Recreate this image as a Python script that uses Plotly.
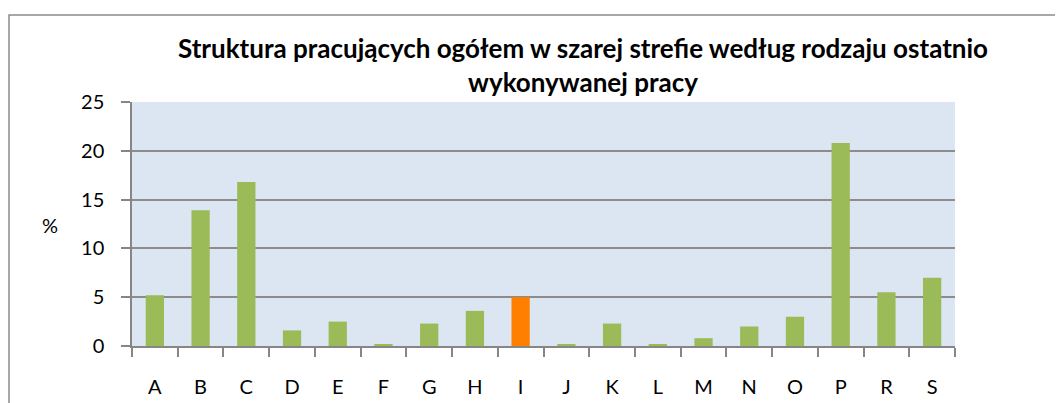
import plotly.graph_objects as go

categories = ["A", "B", "C", "D", "E", "F", "G", "H", "I", "J", "K", "L", "M", "N", "O", "P", "R", "S"]
values = [5.2, 13.9, 16.8, 1.6, 2.5, 0.2, 2.3, 3.6, 5.0, 0.2, 2.3, 0.2, 0.8, 2.0, 3.0, 20.8, 5.5, 7.0]
highlight = "I"
y_ticks = [0, 5, 10, 15, 20, 25]

GREEN = "#9bbb59"
ORANGE = "#ff8000"
colors = [ORANGE if c == highlight else GREEN for c in categories]

W, H = 1063, 403
OFF = 8  # page body margin offset
# desired screen positions of plot area
SL, SR, ST, SB = 132, 955, 102, 346
L, T = SL - OFF, ST - OFF
R = W - (SR - OFF)
B = H - (SB - OFF)
pw, ph = W - L - R, H - T - B

def px_x(p):
    return (p - OFF - L) / pw

def px_y(p):
    return (H - B - (p - OFF)) / ph

fig = go.Figure(go.Bar(x=categories, y=values, marker=dict(color=colors, line=dict(width=0)), width=0.4))

fig.update_layout(
    width=W, height=H,
    margin=dict(l=L, r=R, t=T, b=B),
    paper_bgcolor="white",
    plot_bgcolor="#dce6f2",
    showlegend=False,
    font=dict(family="Lato", color="#000000"),
    title=dict(
        text="<b>Struktura pracujących ogółem w szarej strefie według rodzaju ostatnio<br>wykonywanej pracy</b>",
        x=(583 - OFF) / W, xanchor="center", y=1 - 50 / H, yanchor="middle",
        font=dict(size=26, family="Lato"),
    ),
)

fig.update_xaxes(
    type="category",
    showline=True, linecolor="#868686", linewidth=1.5,
    ticks="outside", tickson="boundaries", ticklen=9, tickcolor="#868686", tickwidth=1.5,
    tickfont=dict(size=20, family="Lato"),
    ticklabelstandoff=22,
    showgrid=False,
)
fig.update_yaxes(
    range=[0, 25], tickvals=y_ticks,
    showline=True, linecolor="#868686", linewidth=1.5,
    ticks="outside", ticklen=9, tickcolor="#868686", tickwidth=1.5,
    tickfont=dict(size=20, family="Lato"),
    ticklabelstandoff=13,
    showgrid=True, gridcolor="#8c8c8c", gridwidth=1.5,
    zeroline=False,
)

fig.add_annotation(text="%", xref="paper", yref="paper", x=px_x(49.5), y=px_y(225),
                   xanchor="center", yanchor="middle",
                   showarrow=False, font=dict(size=20, family="Lato"))

fig.add_shape(type="rect", xref="paper", yref="paper",
              x0=px_x(OFF + 1), x1=px_x(1090), y0=px_y(430), y1=px_y(15),
              line=dict(color="#8c8c8c", width=1.5), fillcolor="rgba(0,0,0,0)", layer="below")

fig.write_html("out.html")
